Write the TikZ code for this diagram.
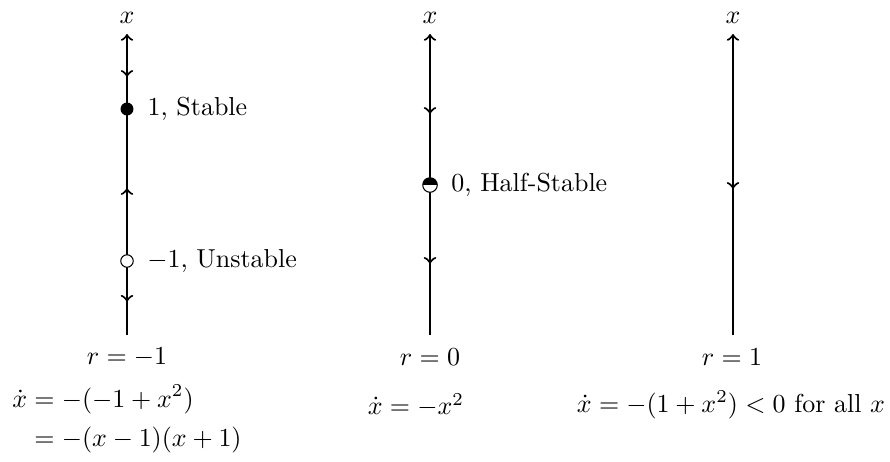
\documentclass[tikz,border=0pt]{standalone}
\usepackage{amsmath}
\usetikzlibrary{positioning,decorations.markings}

\begin{document}
\begin{tikzpicture}[x=0.385pt, y=-0.385pt, >=to,
	phaseline/.style={thick, ->, postaction={decorate}},
	stablept/.style={circle, fill=black, inner sep=0pt, minimum size=5pt},
	unstablept/.style={circle, draw, thin, fill=white, inner sep=0pt, minimum size=4.8pt},
	halfpt/.style={circle, draw, thin, fill=white, inner sep=0pt, minimum size=5.6pt,
		path picture={\fill[black] (path picture bounding box.north west) rectangle (path picture bounding box.east);}},
	ptlabel/.style={right=1.7pt of #1}]
	\useasboundingbox (0,0) rectangle (890,461);

	% r = -1
	\coordinate (ta) at (127,34);
	\coordinate (ba) at (127,335);
	\node (xa) at (127,18) {$x$};
	\draw[phaseline, decoration={markings,
		mark=at position 0.133 with {\arrow{<}},
		mark=at position 0.488 with {\arrow{>}},
		mark=at position 0.88 with {\arrow{<}}}] (ba) -- (ta);
	\node[stablept] (p1) at (127,109) {};
	\node[unstablept] (m1) at (127,261) {};
	\node[ptlabel=p1] {$1$, Stable};
	\node[ptlabel=m1] {$-1$, Unstable};
	\node (ra) at (127,357) {$r=-1$};
	\node (ea) at (127,420) {$\begin{aligned}\dot x &= -(-1+x^2)\\ &= -(x-1)(x+1)\end{aligned}$};

	% r = 0
	\coordinate (tb) at (430,34);
	\coordinate (bb) at (430,335);
	\node (xb) at (430,18) {$x$};
	\draw[phaseline, decoration={markings,
		mark=at position 0.259 with {\arrow{<}},
		mark=at position 0.757 with {\arrow{<}}}] (bb) -- (tb);
	\node[halfpt] (z0) at (430,185) {};
	\node[ptlabel=z0] {$0$, Half-Stable};
	\node (rb) at (430,357) {$r=0$};
	\node (eb) at (416,405) {$\dot x = -x^2$};

	% r = 1
	\coordinate (tc) at (733,34);
	\coordinate (bc) at (733,335);
	\node (xc) at (733,18) {$x$};
	\draw[phaseline, decoration={markings,
		mark=at position 0.508 with {\arrow{<}}}] (bc) -- (tc);
	\node (rc) at (732,357) {$r=1$};
	\node (ec) at (731,405) {$\dot x = -(1+x^2) < 0$ for all $x$};
\end{tikzpicture}
\end{document}
